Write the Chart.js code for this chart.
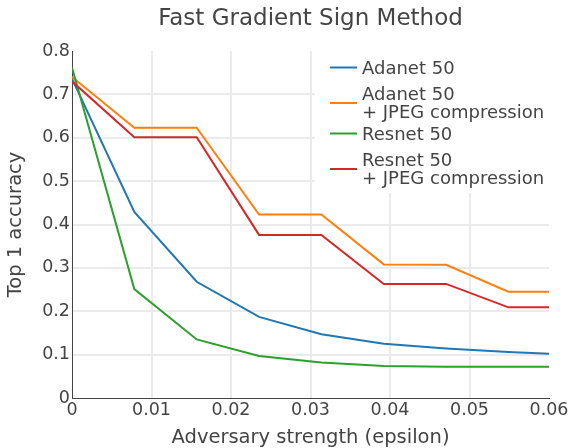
<!DOCTYPE html>
<html>
<head>
<meta charset="utf-8">
<script src="https://cdn.jsdelivr.net/npm/chart.js@4/dist/chart.umd.min.js"></script>
<style>
  html, body { margin: 0; padding: 0; background: #fff; }
  #wrap { width: 572px; height: 448px; }
</style>
</head>
<body>
<div id="wrap"><canvas id="c" width="572" height="448"></canvas></div>
<script>
// ---- data ----
const epsilon = [0, 0.00784, 0.01569, 0.02353, 0.03137, 0.03922, 0.04706, 0.0549, 0.06275];
const adanet50 = [0.736, 0.429, 0.268, 0.187, 0.147, 0.125, 0.114, 0.106, 0.100];
const adanet50Jpeg = [0.740, 0.623, 0.623, 0.423, 0.423, 0.308, 0.307, 0.245, 0.245];
const resnet50 = [0.762, 0.251, 0.135, 0.097, 0.082, 0.074, 0.072, 0.072, 0.072];
const resnet50Jpeg = [0.730, 0.601, 0.601, 0.376, 0.376, 0.263, 0.263, 0.209, 0.209];
const seriesNames = ["Adanet 50", "Adanet 50\n+ JPEG compression", "Resnet 50", "Resnet 50\n+ JPEG compression"];
const seriesColors = ["#1f77b4", "#ff7f0e", "#2ca02c", "#d62728"];
const xTickLabels = ["0", "0.01", "0.02", "0.03", "0.04", "0.05", "0.06"];
const yTickLabels = ["0", "0.1", "0.2", "0.3", "0.4", "0.5", "0.6", "0.7", "0.8"];
const titleText = "Fast Gradient Sign Method";
const xTitle = "Adversary strength (epsilon)";
const yTitle = "Top 1 accuracy";

const FONT = "'DejaVu Sans', Verdana, sans-serif";
const TXT = "#444";
const X_MAX = 0.06, Y_MAX = 0.8;

function pts(ys) { return ys.map((y, i) => ({ x: epsilon[i], y: y })); }
const allSeries = [adanet50, adanet50Jpeg, resnet50, resnet50Jpeg];

const datasets = allSeries.map((s, i) => ({
  label: seriesNames[i],
  data: pts(s),
  borderColor: seriesColors[i],
  backgroundColor: seriesColors[i],
  borderWidth: 2,
  pointRadius: 0,
  tension: 0,
  fill: false,
  order: allSeries.length - i
}));

function gridColor(max) {
  return (ctx) => {
    const v = ctx.tick ? ctx.tick.value : 0;
    if (Math.abs(v) < 1e-9 || Math.abs(v - max) < 1e-9) return 'rgba(0,0,0,0)';
    return '#ebebeb';
  };
}

const titleLegendPlugin = {
  id: 'titleLegend',
  afterDraw(chart) {
    const ctx = chart.ctx;
    const ca = chart.chartArea;
    ctx.save();
    // main title
    ctx.fillStyle = TXT;
    ctx.font = "23px " + FONT;
    ctx.textAlign = 'center';
    ctx.textBaseline = 'alphabetic';
    ctx.fillText(titleText, (ca.left + ca.right) / 2, 25);

    // legend
    ctx.fillStyle = '#fff';
    ctx.fillRect(315, 50, 250, 143);
    ctx.font = "18px " + FONT;
    ctx.textAlign = 'left';
    let y = 67;
    chart.data.datasets.forEach((ds) => {
      const lines = ds.label.split("\n");
      const mids = lines.map((_, k) => y + k * 18.4);
      const sampleY = mids.reduce((a, b) => a + b, 0) / mids.length + 0.5;
      ctx.strokeStyle = ds.borderColor;
      ctx.lineWidth = 2;
      ctx.beginPath();
      ctx.moveTo(330, sampleY);
      ctx.lineTo(357, sampleY);
      ctx.stroke();
      ctx.fillStyle = TXT;
      lines.forEach((t, k) => ctx.fillText(t, 362, mids[k] + 6.6));
      y += 26.3 + (lines.length - 1) * 13.4;
    });
    ctx.restore();
  }
};

new Chart(document.getElementById('c'), {
  type: 'line',
  data: { datasets },
  options: {
    responsive: false,
    animation: false,
    events: [],
    layout: { padding: { left: 0, right: 23, top: 51, bottom: 0 } },
    plugins: { legend: { display: false }, title: { display: false }, tooltip: { enabled: false } },
    scales: {
      x: {
        type: 'linear',
        min: 0, max: X_MAX,
        afterFit: (s) => { s.height = 50; },
        afterBuildTicks: (s) => { s.ticks = xTickLabels.map((t) => ({ value: parseFloat(t) })); },
        ticks: {
          color: TXT,
          font: { family: FONT, size: 17.5, lineHeight: 1.2 },
          padding: 2,
          maxRotation: 0,
          autoSkip: false,
          callback: (v, i) => xTickLabels[i]
        },
        grid: { color: gridColor(X_MAX), lineWidth: 2, drawTicks: false },
        border: { display: true, color: '#444', width: 1 },
        title: {
          display: true, text: xTitle, color: TXT,
          font: { family: FONT, size: 19.5, lineHeight: 1.0 },
          padding: { top: 0, bottom: 0 }
        }
      },
      y: {
        min: 0, max: Y_MAX,
        afterFit: (s) => { s.width = 72; },
        afterBuildTicks: (s) => { s.ticks = yTickLabels.map((t) => ({ value: parseFloat(t) })); },
        ticks: {
          color: TXT,
          font: { family: FONT, size: 17.5, lineHeight: 1.2 },
          padding: 2,
          autoSkip: false,
          callback: (v, i) => yTickLabels[i]
        },
        grid: { color: gridColor(Y_MAX), lineWidth: 2, drawTicks: false },
        border: { display: true, color: '#444', width: 1 },
        title: {
          display: true, text: yTitle, color: TXT,
          font: { family: FONT, size: 19.5, lineHeight: 1.0 },
          padding: { top: 6, bottom: 0 }
        }
      }
    }
  },
  plugins: [titleLegendPlugin]
});
</script>
</body>
</html>
